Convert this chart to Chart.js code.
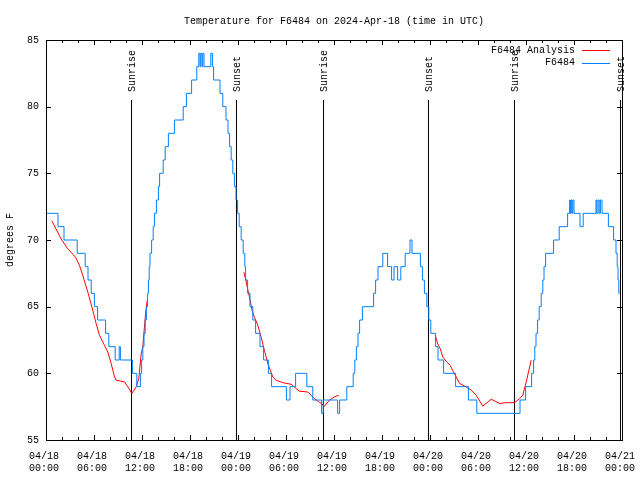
<!DOCTYPE html>
<html lang="en">
<head>
<meta charset="UTF-8">
<title>Temperature for F6484</title>
<script src="https://cdn.jsdelivr.net/npm/chart.js@4"></script>
<style>
  body { margin: 0; background: #fff; }
  canvas { display: block; }
</style>
</head>
<body>
<canvas id="tempChart" width="640" height="480"></canvas>
<script>
// hours since 04/18 00:00 UTC, value holds from that hour on (step line)
const obsHours = [0, 1.5, 2.25, 3.9, 4.9, 5.25, 5.65, 6.05, 6.45, 7.45, 7.85, 8.65, 9.15, 9.3, 10.8, 11.35,
  11.8, 11.95, 12.1, 12.25, 12.4, 12.55, 12.7, 12.8, 12.9, 13.0, 13.2, 13.4, 13.55, 13.8, 14.05, 14.2, 14.65,
  14.9, 15.3, 16.05, 17.15, 17.55, 18.2, 18.85, 19.1, 19.25, 19.35, 19.5, 19.6, 19.75, 20.6, 20.8, 20.95,
  21.75, 22.1, 22.5, 22.75, 22.95, 23.15, 23.35, 23.55, 23.75, 23.95, 24.15, 24.4, 24.65, 24.85, 24.95,
  25.2, 25.5, 25.85, 26.2, 26.75, 27.2, 27.8, 28.2, 30.05, 30.5, 31.2, 32.6, 33.35, 34.45, 34.65, 36.45,
  36.7, 37.6, 38.4, 38.6, 38.8, 39.0, 39.2, 39.55, 40.95, 41.2, 41.5, 42.1, 42.7, 43.2, 43.5, 43.95, 44.35,
  44.9, 45.5, 45.75, 46.8, 47.05, 47.3, 47.6, 47.85, 48.1, 48.7, 49.0, 49.7, 51.2, 52.8, 53.85, 59.25,
  59.95, 60.7, 60.95, 61.1, 61.25, 61.45, 61.65, 61.9, 62.1, 62.25, 62.45, 63.45, 64.15, 65.2, 65.45,
  65.55, 65.65, 65.75, 65.85, 66.0, 66.75, 67.15, 68.75, 68.85, 69.0, 69.15, 69.3, 69.5, 70.3, 70.95,
  71.25, 71.4, 71.5, 71.6, 71.7];
const obsTemps = [72, 71, 70, 69, 68, 67, 66, 65, 64, 63, 62, 61, 62, 61, 60, 59,
  60, 61, 62, 63, 64, 65, 66, 67, 68, 69, 70, 71, 72, 73, 74, 75, 76,
  77, 78, 79, 80, 81, 82, 83, 84, 83, 84, 83, 84, 83, 84, 83, 82,
  81, 80, 79, 78, 77, 76, 75, 74, 73, 72, 71, 70, 69, 68, 67,
  66, 65, 64, 63, 62, 61, 60, 59, 58, 59, 60, 59, 58, 57, 58, 57,
  58, 59, 60, 61, 62, 63, 64, 65, 66, 67, 68, 69, 68, 67, 68, 67, 68,
  69, 70, 69, 68, 67, 66, 65, 64, 63, 62, 61, 60, 59, 58, 57, 58,
  59, 60, 61, 62, 63, 64, 65, 66, 67, 68, 69, 70, 71, 72, 73,
  72, 73, 72, 73, 72, 71, 72, 73, 72, 73, 72, 73, 72, 71, 70,
  69, 68, 67, 66, 66];

// analysis, null = no analysis in that gap
const anaHours = [0.73, 1.9, 2.73, 3.69, 4.19, 4.6, 5.23, 5.85, 6.27, 6.69, 7.31, 7.73, 8.15, 8.56, 8.77,
  9.81, 10.23, 10.73, 11.27, 11.6, 11.9, 12.1, 12.44, 12.65, 18,
  24.73, 24.94, 25.23, 25.52, 25.77, 26.06, 26.48, 26.9, 27.31, 27.73, 28.35, 28.77, 29.6, 30.65, 31.27,
  31.69, 32.73, 33.56, 34.1, 34.52, 34.73, 35.44, 36.06, 36.6, 42,
  48.65, 48.98, 49.27, 49.6, 50.03, 50.52, 50.85, 51.27, 51.69, 52.52, 53.15, 53.77, 54.6, 55.65, 56.69,
  57.52, 58.56, 59.19, 59.6, 60.03, 60.65];
const anaTemps = [71.44, 70.07, 69.33, 68.71, 68.08, 67.33, 66.09, 64.72, 63.72, 62.85, 62.1, 61.6, 60.73, 59.73, 59.48,
  59.36, 58.99, 58.49, 58.99, 59.61, 61.48, 61.98, 64.47, 65.46, null,
  67.58, 67.1, 66.26, 65.46, 64.7, 64.2, 63.6, 62.7, 61.7, 60.73, 59.73, 59.48, 59.3, 59.18, 58.86,
  58.66, 58.6, 58.1, 57.86, 57.7, 57.49, 57.99, 58.24, 58.36, null,
  62.85, 62.2, 61.85, 61.23, 60.9, 60.6, 60.2, 59.73, 59.24, 58.98, 58.74, 58.36, 57.54, 58.06, 57.74,
  57.8, 57.8, 58.1, 58.36, 59.36, 60.98];

const eventHours = [10.69, 23.81, 34.69, 47.81, 58.56, 71.81];
const eventNames = ["Sunrise", "Sunset", "Sunrise", "Sunset", "Sunrise", "Sunset"];
const eventTop = 80.5;

const yTicks = [55, 60, 65, 70, 75, 80, 85];
const seriesNames = ["F6484 Analysis", "F6484"];
const seriesColors = ["#ff0000", "#0080ff"];

const FONT = "'Liberation Mono', 'DejaVu Sans Mono', monospace";

const obsData = obsHours.map((h, i) => ({ x: h, y: obsTemps[i] }));
const anaData = anaHours.map((h, i) => ({ x: h, y: anaTemps[i] }));
const eventData = [];
eventHours.forEach(h => {
    eventData.push({ x: h, y: 55 }, { x: h, y: eventTop }, { x: h, y: null });
});

function tickLabel(v) {
    const day = 18 + Math.floor(v / 24);
    const hr = v % 24;
    return ["04/" + day, (hr < 10 ? "0" : "") + hr + ":00"];
}

// gnuplot style: border, inward ticks, event labels, legend
const gnuplotBits = {
    id: "gnuplotBits",
    afterDatasetsDraw(chart) {
        const ctx = chart.ctx;
        const a = chart.chartArea;
        const xs = chart.scales.x, ys = chart.scales.y;
        ctx.save();
        ctx.strokeStyle = "#000";
        ctx.lineWidth = 1;
        ctx.beginPath();
        // x ticks: major every 6h, minor every 2h
        for (let h = 0; h <= 72; h += 2) {
            const px = Math.round(xs.getPixelForValue(h)) + 0.5;
            const len = h % 6 === 0 ? 5 : 3;
            ctx.moveTo(px, a.bottom); ctx.lineTo(px, a.bottom - len);
            ctx.moveTo(px, a.top); ctx.lineTo(px, a.top + len);
        }
        yTicks.forEach(v => {
            const py = Math.round(ys.getPixelForValue(v)) + 0.5;
            ctx.moveTo(a.left, py); ctx.lineTo(a.left + 5, py);
            ctx.moveTo(a.right, py); ctx.lineTo(a.right - 5, py);
        });
        ctx.stroke();
        ctx.strokeRect(Math.round(a.left) + 0.5, Math.round(a.top) + 0.5,
            Math.round(a.right - a.left), Math.round(a.bottom - a.top));

        // sunrise / sunset labels
        ctx.fillStyle = "#000";
        ctx.font = "10px " + FONT;
        ctx.textBaseline = "middle";
        ctx.textAlign = "left";
        eventHours.forEach((h, i) => {
            const px = xs.getPixelForValue(h) + 1;
            ctx.save();
            ctx.translate(px, 92);
            ctx.rotate(-Math.PI / 2);
            ctx.fillText(eventNames[i], 0, 0);
            ctx.restore();
        });

        // legend, top right inside plot
        ctx.textAlign = "right";
        seriesNames.forEach((name, i) => {
            const y = 50 + i * 12.5;
            ctx.fillStyle = "#000";
            ctx.fillText(name, 575, y);
            ctx.strokeStyle = seriesColors[i];
            ctx.beginPath();
            ctx.moveTo(582, Math.round(y) + 0.5);
            ctx.lineTo(610, Math.round(y) + 0.5);
            ctx.stroke();
        });
        ctx.restore();
    }
};

new Chart(document.getElementById("tempChart"), {
    type: "line",
    data: {
        datasets: [
            { label: seriesNames[0], data: anaData, borderColor: seriesColors[0], borderWidth: 1,
              pointRadius: 0, spanGaps: false, order: 1 },
            { label: seriesNames[1], data: obsData, borderColor: seriesColors[1], borderWidth: 1,
              pointRadius: 0, stepped: true, order: 0 },
            { label: "events", data: eventData, borderColor: "#000", borderWidth: 1,
              pointRadius: 0, spanGaps: false, order: 2 }
        ]
    },
    options: {
        responsive: false,
        animation: false,
        events: [],
        layout: { padding: { left: 0, right: 18, top: 0, bottom: 0 } },
        plugins: {
            legend: { display: false },
            tooltip: { enabled: false },
            title: {
                display: true,
                text: "Temperature for F6484 on 2024-Apr-18 (time in UTC)",
                fullSize: false,
                color: "#000",
                font: { family: FONT, size: 10, weight: "normal", lineHeight: 1.2 },
                padding: { top: 15, bottom: 13 }
            }
        },
        scales: {
            x: {
                type: "linear",
                min: 0,
                max: 72,
                grid: { display: false, drawTicks: false },
                border: { display: false },
                ticks: {
                    stepSize: 6,
                    autoSkip: false,
                    maxRotation: 0,
                    padding: 10,
                    labelOffset: -2,
                    color: "#000",
                    font: { family: FONT, size: 10, lineHeight: 1.2 },
                    callback: v => tickLabel(v)
                },
                afterFit: s => { s.height = 40; s.paddingLeft = 0; s.paddingRight = 0; }
            },
            y: {
                min: 55,
                max: 85,
                grid: { display: false, drawTicks: false },
                border: { display: false },
                ticks: {
                    stepSize: 5,
                    padding: 7,
                    color: "#000",
                    font: { family: FONT, size: 10 }
                },
                title: {
                    display: true,
                    text: "degrees F",
                    color: "#000",
                    font: { family: FONT, size: 10, lineHeight: 1.2 },
                    padding: { top: 4, bottom: 0 }
                },
                afterFit: s => { s.width = 46; }
            }
        }
    },
    plugins: [gnuplotBits]
});
</script>
</body>
</html>
